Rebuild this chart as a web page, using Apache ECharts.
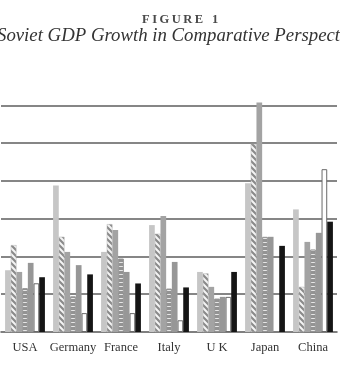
<!DOCTYPE html>
<html>
<head>
<meta charset="utf-8">
<script src="https://cdn.jsdelivr.net/npm/echarts@6/dist/echarts.min.js"></script>
<style>
html,body{margin:0;padding:0;background:#fff;}
#chart{width:340px;height:370px;}
</style>
</head>
<body>
<div id="chart"></div>
<script>
// Data (GDP growth, % per year)
var countries = ['USA', 'Germany', 'France', 'Italy', 'U K', 'Japan', 'China'];
var seriesNames = ['Series 1', 'Series 2', 'Series 3', 'Series 4', 'Series 5', 'Series 6', 'Series 7'];
var s1 = [3.27, 7.75, 4.24, 5.66, 3.18, 7.87, 6.49];
var s2 = [4.60, 5.04, 5.71, 5.20, 3.10, 9.96, 2.39];
var s3 = [3.18, 4.24, 5.40, 6.14, 2.39, 12.15, 4.77];
var s4 = [2.32, 1.89, 3.89, 2.30, 1.77, 5.04, 4.37];
var s5 = [3.66, 3.54, 3.18, 3.71, 1.86, 5.04, 5.25];
var s6 = [2.58, 1.00, 1.00, 0.62, 1.86, null, 8.62];
var s7 = [2.90, 3.05, 2.57, 2.36, 3.18, 4.56, 5.84];
var yTicks = [0, 2, 4, 6, 8, 10, 12];
var titleTop = 'F\u2009I\u2009G\u2009U\u2009R\u2009E\u2002\u20091';
var titleMain = 'Soviet GDP Growth in Comparative Perspect';

function diagPattern() {
  var c = document.createElement('canvas');
  c.width = 6; c.height = 6;
  var g = c.getContext('2d');
  g.fillStyle = '#f4f4f4'; g.fillRect(0, 0, 6, 6);
  g.strokeStyle = '#8a8a8a'; g.lineWidth = 2.2;
  g.beginPath();
  g.moveTo(-3, -3); g.lineTo(9, 9);
  g.moveTo(-3, 3); g.lineTo(3, 9);
  g.moveTo(3, -3); g.lineTo(9, 3);
  g.stroke();
  return c;
}
function horizPattern() {
  var c = document.createElement('canvas');
  c.width = 4; c.height = 4;
  var g = c.getContext('2d');
  g.fillStyle = '#939393'; g.fillRect(0, 0, 4, 4);
  g.fillStyle = '#e6e6e6'; g.fillRect(0, 2, 4, 1);
  return c;
}

var styles = [
  {color: '#c6c6c6'},
  {color: {image: diagPattern(), repeat: 'repeat'}, borderColor: '#b0b0b0', borderWidth: 0.5},
  {color: '#a3a3a3'},
  {color: {image: horizPattern(), repeat: 'repeat'}, borderColor: '#939393', borderWidth: 1},
  {color: '#979797'},
  {color: '#ffffff', borderColor: '#6a6a6a', borderWidth: 1},
  {color: '#151515'}
];
var values = [s1, s2, s3, s4, s5, s6, s7];

var series = values.map(function (v, i) {
  return {
    name: seriesNames[i],
    type: 'bar',
    data: v,
    barGap: '0%',
    barCategoryGap: '17%',
    itemStyle: styles[i],
    silent: true
  };
});

var chart = echarts.init(document.getElementById('chart'), null, {renderer: 'canvas'});
chart.setOption({
  animation: false,
  backgroundColor: '#ffffff',
  grid: {left: 1, right: 3, top: 94, bottom: 38, containLabel: false},
  xAxis: {
    type: 'category',
    data: countries,
    axisTick: {show: false},
    axisLine: {show: true, lineStyle: {color: '#555', width: 1.5}},
    axisLabel: {
      interval: 0,
      hideOverlap: false,
      margin: 9,
      fontFamily: 'Liberation Serif',
      fontSize: 12.5,
      color: '#333'
    }
  },
  yAxis: {
    type: 'value',
    min: yTicks[0],
    max: 12.6,
    interval: yTicks[1] - yTicks[0],
    axisLabel: {show: false},
    axisLine: {show: false},
    axisTick: {show: false},
    splitLine: {show: true, showMaxLine: false, showMinLine: false, lineStyle: {color: '#5e5e5e', width: 1.6}}
  },
  graphic: [
    {type: 'text', left: 142, top: 13, style: {text: titleTop, fontFamily: 'Liberation Serif', fontSize: 12.5, fontWeight: 'bold', fill: '#4a4a4a'}},
    {type: 'text', left: -3, top: 27, style: {text: titleMain, fontFamily: 'Liberation Serif', fontStyle: 'italic', fontSize: 18.8, fill: '#333'}}
  ],
  series: series
});
</script>
</body>
</html>
